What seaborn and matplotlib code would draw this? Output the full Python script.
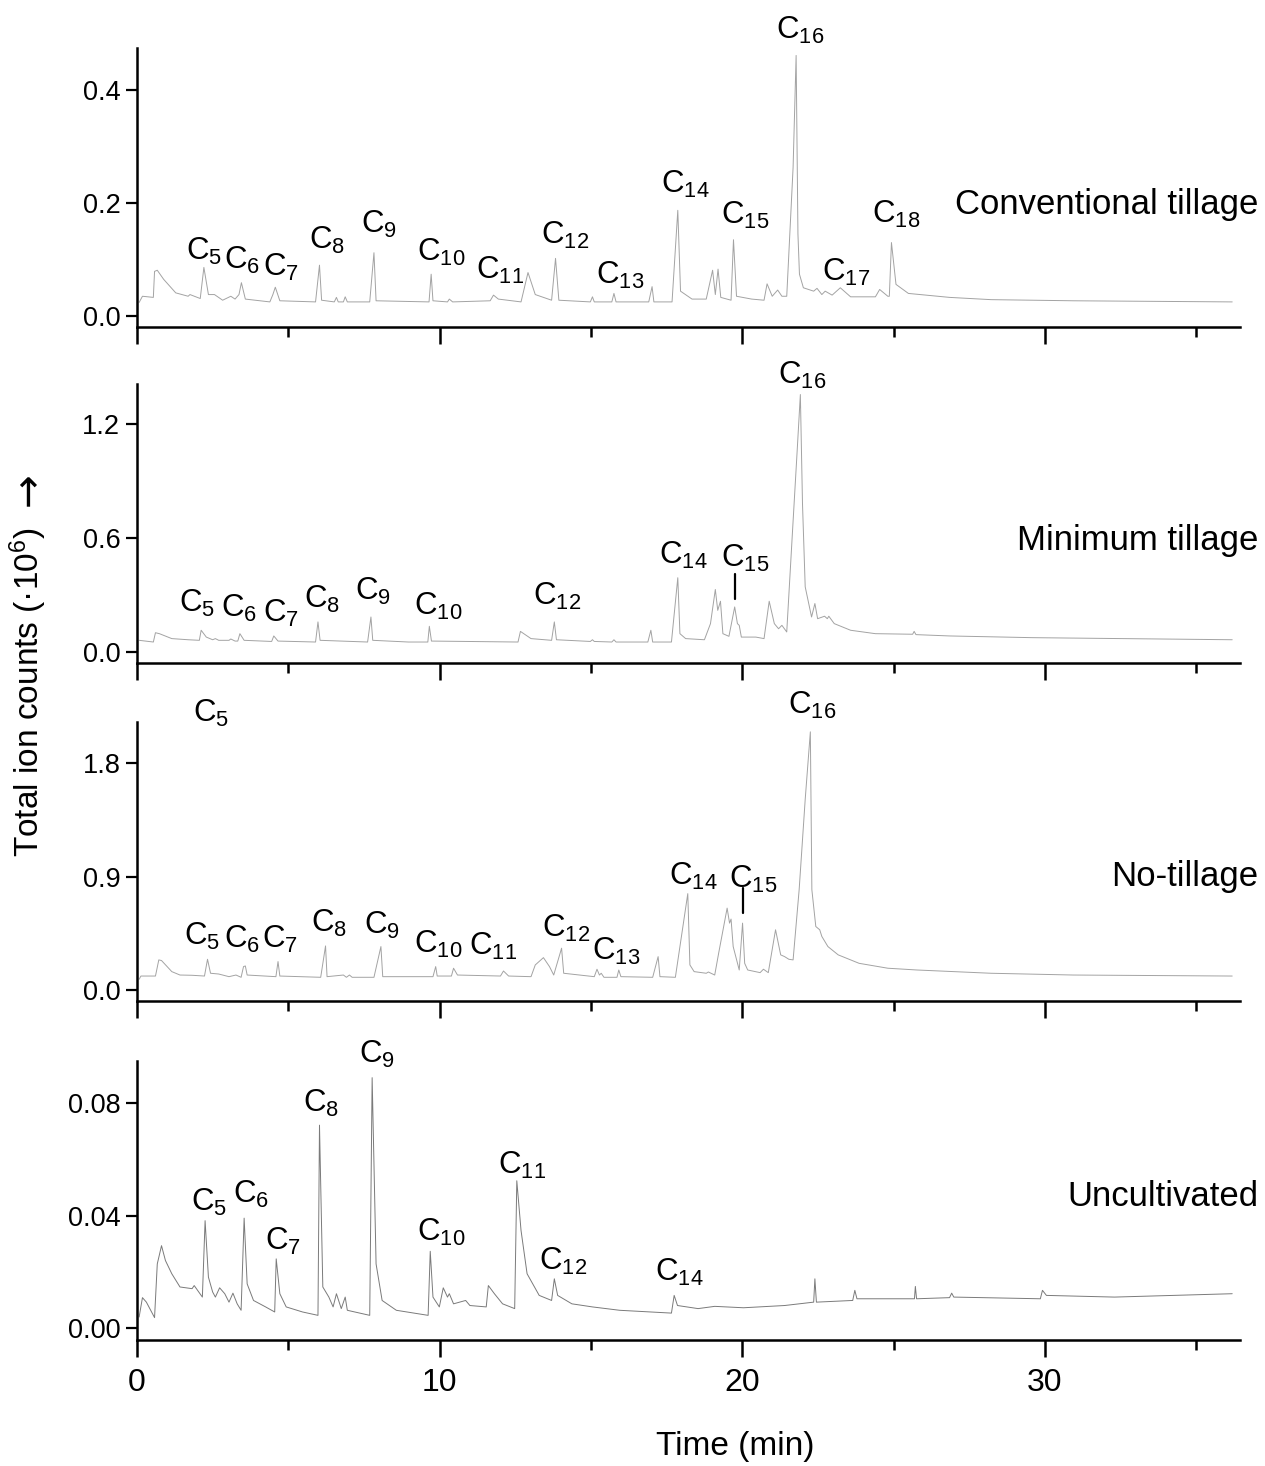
import numpy as np
import pandas as pd
import matplotlib
matplotlib.use('Agg')
import matplotlib.pyplot as plt
import seaborn as sns

## trace vertices: time (min) and total ion counts (x10^6)
conv_time = [0.07, 0.18, 0.54, 0.58, 0.67, 0.88, 1.28, 1.69, 1.75, 2.09, 2.21, 2.36, 2.56, 2.83, 3.10, 3.24,
             3.37, 3.45, 3.58, 4.39, 4.49, 4.57, 4.72, 5.90, 6.03, 6.10, 6.52, 6.59, 6.65, 6.82, 6.88, 6.95,
             7.69, 7.83, 7.90, 9.65, 9.72, 9.78, 10.26, 10.32, 10.43, 11.67, 11.78, 11.94, 12.69, 12.92, 13.16,
             13.70, 13.83, 13.94, 14.98, 15.05, 15.11, 15.69, 15.76, 15.83, 16.91, 17.02, 17.08, 17.68, 17.87,
             17.96, 18.34, 18.81, 19.02, 19.11, 19.20, 19.29, 19.63, 19.71, 19.81, 20.31, 20.72, 20.82, 20.99,
             21.17, 21.31, 21.47, 21.68, 21.78, 21.84, 21.89, 22.02, 22.36, 22.47, 22.63, 22.74, 22.97, 23.24,
             23.58, 24.40, 24.54, 24.81, 24.86, 24.93, 25.08, 25.49, 26.85, 28.22, 30.94, 36.19]
conv_counts = [0.024, 0.035, 0.033, 0.079, 0.081, 0.065, 0.041, 0.035, 0.038, 0.031, 0.086, 0.038, 0.038, 0.028,
               0.035, 0.030, 0.038, 0.059, 0.030, 0.025, 0.038, 0.051, 0.027, 0.025, 0.090, 0.028, 0.025, 0.033,
               0.025, 0.025, 0.034, 0.025, 0.025, 0.112, 0.027, 0.025, 0.074, 0.027, 0.025, 0.030, 0.025, 0.027,
               0.037, 0.030, 0.025, 0.077, 0.038, 0.028, 0.102, 0.028, 0.025, 0.034, 0.025, 0.025, 0.040, 0.025,
               0.025, 0.052, 0.025, 0.025, 0.187, 0.044, 0.030, 0.030, 0.081, 0.038, 0.083, 0.033, 0.028, 0.135,
               0.035, 0.030, 0.028, 0.057, 0.035, 0.046, 0.035, 0.035, 0.263, 0.461, 0.145, 0.074, 0.050, 0.044,
               0.049, 0.038, 0.044, 0.037, 0.050, 0.034, 0.034, 0.047, 0.035, 0.035, 0.130, 0.056, 0.040, 0.033,
               0.029, 0.027, 0.025]

min_time = [0.07, 0.54, 0.61, 0.74, 1.15, 1.69, 2.06, 2.12, 2.29, 2.50, 2.59, 2.70, 3.04, 3.10, 3.24, 3.33,
            3.40, 3.54, 4.45, 4.52, 4.66, 5.90, 5.98, 6.05, 7.62, 7.73, 7.79, 8.97, 9.61, 9.66, 9.73, 12.59,
            12.67, 13.02, 13.70, 13.79, 13.86, 14.98, 15.05, 15.11, 15.69, 15.76, 15.83, 16.88, 16.98, 17.04,
            17.66, 17.87, 17.94, 18.13, 18.75, 18.95, 19.11, 19.19, 19.28, 19.36, 19.56, 19.75, 19.84, 19.90,
            19.97, 20.45, 20.72, 20.89, 21.06, 21.20, 21.31, 21.47, 21.65, 21.81, 21.92, 21.99, 22.08, 22.29,
            22.40, 22.49, 22.72, 22.81, 22.86, 23.04, 23.58, 24.40, 25.63, 25.68, 25.74, 26.85, 29.58, 36.19]
min_counts = [0.062, 0.053, 0.102, 0.097, 0.071, 0.065, 0.062, 0.115, 0.079, 0.065, 0.071, 0.062, 0.062, 0.069,
              0.058, 0.058, 0.097, 0.062, 0.056, 0.085, 0.058, 0.053, 0.159, 0.062, 0.053, 0.185, 0.062, 0.053,
              0.053, 0.136, 0.058, 0.053, 0.109, 0.071, 0.062, 0.159, 0.065, 0.056, 0.065, 0.056, 0.053, 0.065,
              0.053, 0.053, 0.115, 0.053, 0.053, 0.392, 0.097, 0.071, 0.065, 0.150, 0.330, 0.220, 0.268, 0.097,
              0.083, 0.238, 0.150, 0.141, 0.079, 0.079, 0.071, 0.268, 0.150, 0.123, 0.141, 0.106, 0.608, 1.049,
              1.358, 0.785, 0.344, 0.185, 0.256, 0.176, 0.189, 0.176, 0.189, 0.150, 0.115, 0.097, 0.094, 0.109,
              0.092, 0.085, 0.076, 0.065]

no_time = [0.07, 0.13, 0.61, 0.72, 0.81, 1.15, 1.42, 1.82, 2.23, 2.33, 2.43, 2.70, 3.04, 3.27, 3.44, 3.52,
           3.58, 3.64, 4.59, 4.66, 4.72, 6.07, 6.23, 6.28, 6.82, 6.92, 7.02, 7.11, 7.83, 8.06, 8.12, 9.78, 9.87,
           9.92, 10.39, 10.46, 10.59, 12.01, 12.11, 12.28, 13.02, 13.16, 13.43, 13.63, 13.77, 14.03, 14.10,
           15.11, 15.20, 15.28, 15.34, 15.43, 15.86, 15.92, 15.99, 17.04, 17.22, 17.28, 17.79, 18.20, 18.27,
           18.41, 18.81, 18.88, 19.09, 19.22, 19.50, 19.58, 19.63, 19.70, 19.90, 20.01, 20.08, 20.18, 20.59,
           20.70, 20.86, 21.10, 21.27, 21.40, 21.54, 21.68, 21.88, 22.08, 22.25, 22.30, 22.43, 22.56, 22.63,
           22.83, 23.17, 23.86, 24.81, 25.77, 28.22, 30.94, 36.19]
no_counts = [0.085, 0.111, 0.111, 0.239, 0.234, 0.146, 0.119, 0.117, 0.111, 0.244, 0.133, 0.127, 0.106, 0.119,
             0.101, 0.186, 0.191, 0.119, 0.106, 0.226, 0.111, 0.101, 0.350, 0.106, 0.119, 0.101, 0.119, 0.101,
             0.101, 0.345, 0.106, 0.106, 0.186, 0.111, 0.111, 0.173, 0.119, 0.111, 0.151, 0.111, 0.106, 0.199,
             0.257, 0.186, 0.119, 0.332, 0.133, 0.106, 0.165, 0.119, 0.133, 0.101, 0.101, 0.159, 0.106, 0.101,
             0.265, 0.106, 0.101, 0.765, 0.199, 0.146, 0.133, 0.143, 0.119, 0.292, 0.650, 0.531, 0.563, 0.345,
             0.159, 0.531, 0.212, 0.159, 0.138, 0.165, 0.138, 0.478, 0.279, 0.265, 0.244, 0.239, 0.796, 1.513,
             2.049, 0.796, 0.504, 0.478, 0.425, 0.345, 0.279, 0.212, 0.173, 0.159, 0.133, 0.119, 0.111]

unc_time = [0.07, 0.18, 0.31, 0.58, 0.67, 0.81, 0.94, 1.15, 1.42, 1.82, 1.89, 2.16, 2.25, 2.36, 2.50, 2.59,
            2.73, 2.90, 3.04, 3.17, 3.31, 3.44, 3.54, 3.64, 3.85, 4.25, 4.55, 4.60, 4.72, 4.93, 5.47, 5.98,
            6.03, 6.14, 6.34, 6.48, 6.59, 6.75, 6.88, 6.95, 7.69, 7.77, 7.90, 8.10, 8.57, 9.62, 9.69, 9.78,
            9.99, 10.12, 10.26, 10.32, 10.46, 10.86, 11.00, 11.54, 11.61, 11.81, 12.08, 12.48, 12.55, 12.69,
            12.89, 13.29, 13.70, 13.79, 13.90, 14.37, 15.05, 15.95, 17.66, 17.75, 17.86, 18.54, 19.09, 20.04,
            21.40, 22.36, 22.40, 22.45, 23.65, 23.72, 23.79, 24.81, 25.69, 25.72, 25.76, 26.85, 26.92, 26.99,
            29.85, 29.92, 30.05, 32.30, 36.19]
unc_counts = [0.0039, 0.0108, 0.0092, 0.0037, 0.0228, 0.0293, 0.0240, 0.0193, 0.0146, 0.0140, 0.0151, 0.0110,
              0.0382, 0.0181, 0.0128, 0.0110, 0.0143, 0.0122, 0.0092, 0.0124, 0.0086, 0.0063, 0.0391, 0.0157,
              0.0098, 0.0075, 0.0057, 0.0246, 0.0122, 0.0075, 0.0057, 0.0045, 0.0722, 0.0146, 0.0110, 0.0075,
              0.0122, 0.0069, 0.0110, 0.0063, 0.0045, 0.0891, 0.0228, 0.0098, 0.0063, 0.0045, 0.0273, 0.0110,
              0.0075, 0.0143, 0.0110, 0.0122, 0.0086, 0.0098, 0.0080, 0.0075, 0.0151, 0.0122, 0.0086, 0.0069,
              0.0524, 0.0347, 0.0193, 0.0116, 0.0098, 0.0175, 0.0116, 0.0086, 0.0075, 0.0063, 0.0053, 0.0116,
              0.0080, 0.0069, 0.0077, 0.0072, 0.0080, 0.0092, 0.0175, 0.0092, 0.0098, 0.0134, 0.0104, 0.0104,
              0.0104, 0.0148, 0.0104, 0.0108, 0.0124, 0.0110, 0.0104, 0.0134, 0.0116, 0.0110, 0.0122]

## peak labels (carbon number, left edge time, baseline height)
conv_peaks = [5, 6, 7, 8, 9, 10, 11, 12, 13, 14, 15, 16, 17, 18]
conv_peak_x = [1.62, 2.87, 4.18, 5.67, 7.40, 9.24, 11.2, 13.36, 15.18, 17.32, 19.29, 21.13, 22.63, 24.29]
conv_peak_y = [0.100, 0.083, 0.071, 0.118, 0.147, 0.098, 0.065, 0.127, 0.056, 0.217, 0.163, 0.49, 0.062, 0.165]

min_peaks = [5, 6, 7, 8, 9, 10, 12, 14, 15, 16]
min_peak_x = [1.38, 2.77, 4.16, 5.53, 7.19, 9.14, 13.09, 17.25, 19.29, 21.17]
min_peak_y = [0.212, 0.185, 0.159, 0.235, 0.273, 0.194, 0.247, 0.467, 0.450, 1.415]

no_peaks = [5, 5, 6, 7, 8, 9, 10, 11, 12, 13, 14, 15, 16]
no_peak_x = [1.85, 1.55, 2.87, 4.12, 5.76, 7.49, 9.14, 10.97, 13.39, 15.05, 17.59, 19.56, 21.51]
no_peak_y = [2.124, 0.358, 0.332, 0.332, 0.465, 0.443, 0.292, 0.279, 0.425, 0.239, 0.836, 0.810, 2.19]

unc_peaks = [5, 6, 7, 8, 9, 10, 11, 12, 14]
unc_peak_x = [1.78, 3.17, 4.22, 5.49, 7.33, 9.24, 11.92, 13.29, 17.11]
unc_peak_y = [0.0418, 0.0447, 0.0278, 0.077, 0.0944, 0.0311, 0.055, 0.0207, 0.0169]

panel_names = ['Conventional tillage', 'Minimum tillage', 'No-tillage', 'Uncultivated']
panel_name_y = [0.180, 0.536, 0.822, 0.0434]
y_ticks = [[0.0, 0.2, 0.4], [0.0, 0.6, 1.2], [0.0, 0.9, 1.8], [0.0, 0.04, 0.08]]
y_tick_labels = [['0.0', '0.2', '0.4'], ['0.0', '0.6', '1.2'], ['0.0', '0.9', '1.8'], ['0.00', '0.04', '0.08']]
y_limits = [(-0.0195, 0.474), (-0.058, 1.413), (-0.087, 2.127), (-0.0043, 0.0950)]

## C15 pointer lines (time, bottom, top)
c15_marks = {1: (19.75, 0.282, 0.414), 2: (20.03, 0.61, 0.81)}

sns.set_style('ticks')
plt.rcParams['font.family'] = ['Liberation Sans', 'DejaVu Sans']
plt.rcParams['text.color'] = 'black'
plt.rcParams['mathtext.fontset'] = 'custom'
plt.rcParams['mathtext.rm'] = 'Liberation Sans'
plt.rcParams['mathtext.it'] = 'Liberation Sans:italic'
plt.rcParams['mathtext.default'] = 'regular'

traces = [(conv_time, conv_counts), (min_time, min_counts), (no_time, no_counts), (unc_time, unc_counts)]
labels = [(conv_peaks, conv_peak_x, conv_peak_y), (min_peaks, min_peak_x, min_peak_y),
          (no_peaks, no_peak_x, no_peak_y), (unc_peaks, unc_peak_x, unc_peak_y)]
bottoms = [0.7769, 0.5477, 0.3172, 0.0859]
colors = ['#a3a3a3', '#a3a3a3', '#a3a3a3', '#7a7a7a']

fig = plt.figure(figsize=(12.65, 14.66), dpi=100)

for i in range(4):
    ax = fig.add_axes([0.1083, bottoms[i], 0.8720, 0.1903])
    df = pd.DataFrame({'time': traces[i][0], 'counts': traces[i][1]})
    sns.lineplot(data=df, x='time', y='counts', ax=ax, color=colors[i], linewidth=0.7,
                 estimator=None, sort=False)

    ## peak labels
    for n, px, py in zip(*labels[i]):
        ax.text(px, py, r'C$_{%d}$' % n, fontsize=22.5, color='black', ha='left', va='baseline',
                clip_on=False)
    ax.text(37.06, panel_name_y[i], panel_names[i], fontsize=25, color='black', ha='right',
            va='baseline', clip_on=False)

    if i in c15_marks:
        mt, m0, m1 = c15_marks[i]
        ax.plot([mt, mt], [m0, m1], color='black', linewidth=1.6)

    ## axes styling
    ax.set_xlim(0, 36.45)
    ax.set_ylim(*y_limits[i])
    ax.set_yticks(y_ticks[i])
    ax.set_yticklabels(y_tick_labels[i])
    ax.set_xticks([0, 10, 20, 30])
    ax.set_xticks([5, 15, 25, 35], minor=True)
    ax.set_xlabel('')
    ax.set_ylabel('')
    sns.despine(ax=ax)
    for side in ['left', 'bottom']:
        ax.spines[side].set_linewidth(1.8)
        ax.spines[side].set_color('black')
    ax.tick_params(axis='y', which='major', direction='out', length=8, width=1.6, labelsize=19.5, pad=4,
                   colors='black')
    ax.tick_params(axis='x', which='major', direction='out', length=12, width=1.8, labelsize=23, pad=8,
                   colors='black')
    ax.tick_params(axis='x', which='minor', direction='out', length=7, width=1.8, colors='black')
    if i < 3:
        ax.tick_params(axis='x', which='both', labelbottom=False)

## y label, with the arrow drawn from DejaVu Sans
fig.text(0.022, 0.528, 'Total ion counts (·10$^{6}$)', rotation=90, fontsize=24,
         color='black', ha='center', va='center')
fig.text(0.0225, 0.6665, '→', rotation=90, fontsize=29, family='DejaVu Sans',
         color='black', ha='center', va='center')
fig.text(0.581, 0.0130, 'Time (min)', fontsize=24, color='black', ha='center', va='center')

plt.savefig('out.png', dpi=100)
